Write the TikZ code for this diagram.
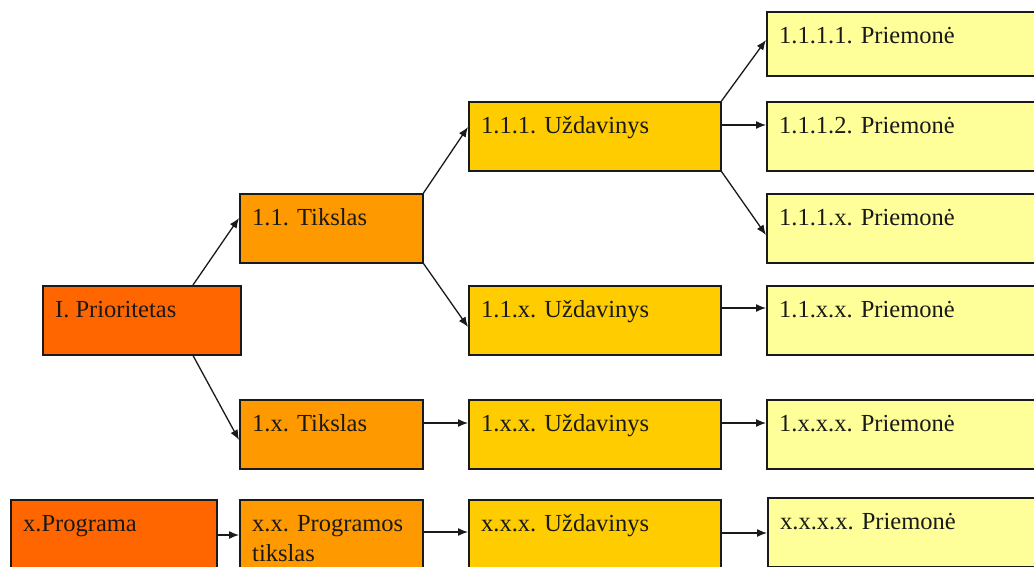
\documentclass[tikz,border=0pt]{standalone}
\usepackage{fontspec}
\setmainfont{Liberation Serif}
\usetikzlibrary{arrows.meta,calc}
\definecolor{cprio}{HTML}{FF6600}
\definecolor{ctiks}{HTML}{FF9900}
\definecolor{cuzd}{HTML}{FFCC00}
\definecolor{cprm}{HTML}{FFFF99}
\definecolor{cline}{HTML}{1A1A1A}
\begin{document}
\begin{tikzpicture}[x=1pt,y=-1pt,
  box/.style={draw=cline,line width=1.5pt,rectangle,anchor=north west,inner sep=0pt},
  prio/.style={box,fill=cprio,minimum width=198pt,minimum height=69pt},
  tiks/.style={box,fill=ctiks,minimum width=183pt,minimum height=69pt},
  uzd/.style={box,fill=cuzd,minimum width=252pt,minimum height=69pt},
  prm/.style={box,fill=cprm,minimum width=300pt,minimum height=69pt},
  txt/.style={anchor=base west,inner sep=0pt,font=\fontsize{24.5}{30}\selectfont,text=black!90,align=left},
  arr/.style={draw=cline,line width=1.3pt,-{Latex[length=10pt,width=8pt]}}]
\clip (0,0) rectangle (1034,566);
\fill[white] (0,0) rectangle (1034,566);
% boxes
\node[prio] (P1) at (42,285) {};
\node[tiks] (T11) at (239,193) {};
\node[tiks] (T1x) at (239,399) {};
\node[uzd] (U111) at (468,101) {};
\node[uzd] (U11x) at (468,285) {};
\node[uzd] (U1xx) at (468,399) {};
\node[prm,minimum height=64pt] (M1111) at (766,11) {};
\node[prm] (M1112) at (766,101) {};
\node[prm] (M111x) at (766,193) {};
\node[prm] (M11xx) at (766,285) {};
\node[prm] (M1xxx) at (766,399) {};
\node[prio,minimum width=206pt] (Prog) at (10,499) {};
\node[tiks] (PT) at (239,499) {};
\node[uzd] (Uxxx) at (468,499) {};
\node[prm] (Mxxxx) at (767,497) {};
% texts
\node[txt] (P1t) at ([xshift=13pt,yshift=-32pt]P1.north west) {I. Prioritetas};
\node[txt] (T11t) at ([xshift=13pt,yshift=-32pt]T11.north west) {1.1. Tikslas};
\node[txt] (T1xt) at ([xshift=13pt,yshift=-32pt]T1x.north west) {1.x. Tikslas};
\node[txt] (U111t) at ([xshift=13pt,yshift=-32pt]U111.north west) {1.1.1. Uždavinys};
\node[txt] (U11xt) at ([xshift=13pt,yshift=-32pt]U11x.north west) {1.1.x. Uždavinys};
\node[txt] (U1xxt) at ([xshift=13pt,yshift=-32pt]U1xx.north west) {1.x.x. Uždavinys};
\node[txt] (M1111t) at ([xshift=13pt,yshift=-32pt]M1111.north west) {1.1.1.1. Priemonė};
\node[txt] (M1112t) at ([xshift=13pt,yshift=-32pt]M1112.north west) {1.1.1.2. Priemonė};
\node[txt] (M111xt) at ([xshift=13pt,yshift=-32pt]M111x.north west) {1.1.1.x. Priemonė};
\node[txt] (M11xxt) at ([xshift=13pt,yshift=-32pt]M11xx.north west) {1.1.x.x. Priemonė};
\node[txt] (M1xxxt) at ([xshift=13pt,yshift=-32pt]M1xxx.north west) {1.x.x.x. Priemonė};
\node[txt] (Progt) at ([xshift=13pt,yshift=-32pt]Prog.north west) {x.Programa};
\node[txt] (PTt) at ([xshift=13pt,yshift=-62pt]PT.north west) {x.x. Programos\\tikslas};
\node[txt] (Uxxxt) at ([xshift=13pt,yshift=-32pt]Uxxx.north west) {x.x.x. Uždavinys};
\node[txt] (Mxxxxt) at ([xshift=13pt,yshift=-32pt]Mxxxx.north west) {x.x.x.x. Priemonė};
% arrows
\draw[arr] ([xshift=151pt]P1.north west) -- ([yshift=-25pt]T11.north west);
\draw[arr] ([xshift=151pt]P1.south west) -- ([yshift=-41pt]T1x.north west);
\draw[arr] (T11.north east) -- ([yshift=-26pt]U111.north west);
\draw[arr] (T11.south east) -- ([yshift=-42pt]U11x.north west);
\draw[arr] (U111.north east) -- ([yshift=-29pt]M1111.north west);
\draw[arr] ([yshift=-24pt]U111.north east) -- ([yshift=-24pt]M1112.north west);
\draw[arr] (U111.south east) -- ([yshift=-42pt]M111x.north west);
\draw[arr] ([yshift=-23pt]U11x.north east) -- ([yshift=-23pt]M11xx.north west);
\draw[arr] ([yshift=-24pt]T1x.north east) -- ([yshift=-24pt]U1xx.north west);
\draw[arr] ([yshift=-24pt]U1xx.north east) -- ([yshift=-24pt]M1xxx.north west);
\draw[arr] ([yshift=-36pt]Prog.north east) -- ([yshift=-36pt]PT.north west);
\draw[arr] ([yshift=-33pt]PT.north east) -- ([yshift=-33pt]Uxxx.north west);
\draw[arr] ([yshift=-34pt]Uxxx.north east) -- ([yshift=-36pt]Mxxxx.north west);
\end{tikzpicture}
\end{document}
